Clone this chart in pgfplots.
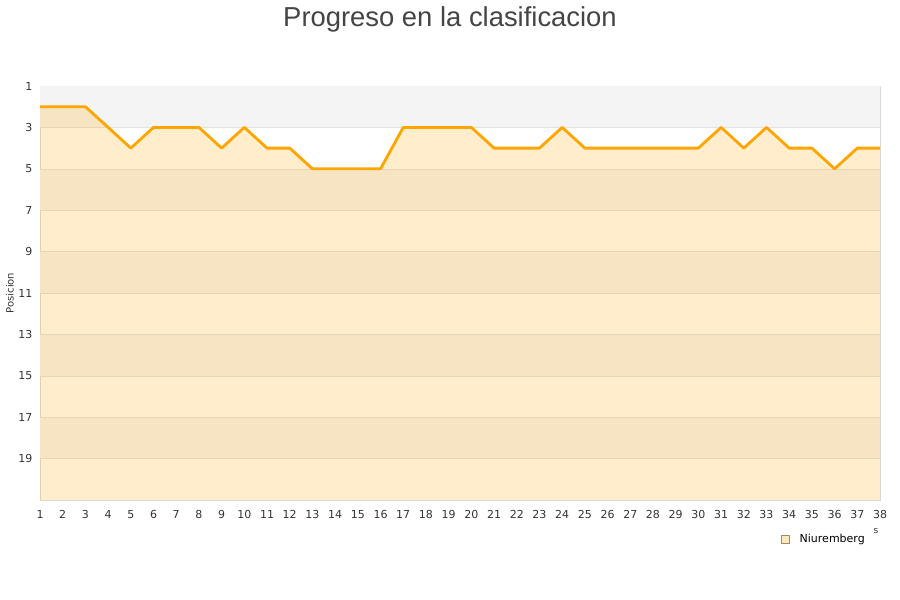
\documentclass[border=0pt]{standalone}
\usepackage{fontspec}
\setmainfont{DejaVu Sans}
\newfontfamily\titlefont{Liberation Sans}
\usepackage{pgfplots}
\pgfplotsset{compat=1.18}

\definecolor{lineor}{HTML}{FFA500}
\definecolor{bandgray}{HTML}{F4F4F4}
\definecolor{gridc}{HTML}{E2E2E2}
\definecolor{framec}{HTML}{DADADA}
\definecolor{txt}{HTML}{333333}
\definecolor{titlec}{HTML}{444444}
\definecolor{legf}{HTML}{FFE8C0}
\definecolor{legb}{HTML}{9A8A70}

\begin{document}
\begin{tikzpicture}[x=1pt,y=1pt]
\path[use as bounding box] (0,0) rectangle (900,600);
\node[font=\titlefont\fontsize{27.4}{30}\selectfont, text=titlec] at (450,581) {Progreso en la clasificacion};
\begin{axis}[
  at={(40pt,100pt)}, anchor=south west,
  scale only axis, width=840pt, height=414pt,
  xmin=1, xmax=38, ymin=1, ymax=21, y dir=reverse,
  xtick={1,...,38}, ytick={1,3,...,19},
  major tick length=0pt,
  axis line style={framec},
  tick label style={font=\fontsize{11}{13}\selectfont, text=txt},
  yticklabel style={xshift=-4pt},
  xticklabel style={yshift=-7pt},
  /pgf/number format/assume math mode=true,
  ylabel={Posicion},
  ylabel style={font=\fontsize{10}{12}\selectfont, text=txt, at={(axis description cs:0,0.5)}, anchor=center, yshift=30pt},
  legend style={at={(axis description cs:0.882,-0.094)}, anchor=west, draw=none, fill=none,
    font=\fontsize{11}{13}\selectfont, inner sep=0pt,
    /tikz/every odd column/.style={column sep=8pt}},
  legend cell align=left,
]
\fill[bandgray] (axis cs:1,1) rectangle (axis cs:38,3);
\fill[bandgray] (axis cs:1,5) rectangle (axis cs:38,7);
\fill[bandgray] (axis cs:1,9) rectangle (axis cs:38,11);
\fill[bandgray] (axis cs:1,13) rectangle (axis cs:38,15);
\fill[bandgray] (axis cs:1,17) rectangle (axis cs:38,19);
\pgfplotsinvokeforeach{3,5,...,19}{\draw[gridc] (axis cs:1,#1) -- (axis cs:38,#1);}

\addplot[draw=none, fill=lineor, fill opacity=0.2, forget plot] coordinates {
(1,2) (2,2) (3,2) (4,3) (5,4) (6,3) (7,3) (8,3) (9,4) (10,3)
(11,4) (12,4) (13,5) (14,5) (15,5) (16,5) (17,3) (18,3) (19,3) (20,3)
(21,4) (22,4) (23,4) (24,3) (25,4) (26,4) (27,4) (28,4) (29,4) (30,4)
(31,3) (32,4) (33,3) (34,4) (35,4) (36,5) (37,4) (38,4) (38,21) (1,21)
} -- cycle;

\addplot[lineor, line width=2.8pt, line join=round,
  legend image code/.code={\draw[draw=legb, fill=legf, line width=0.6pt] (0pt,-4pt) rectangle (8pt,4pt);}]
coordinates {
(1,2) (2,2) (3,2) (4,3) (5,4) (6,3) (7,3) (8,3) (9,4) (10,3)
(11,4) (12,4) (13,5) (14,5) (15,5) (16,5) (17,3) (18,3) (19,3) (20,3)
(21,4) (22,4) (23,4) (24,3) (25,4) (26,4) (27,4) (28,4) (29,4) (30,4)
(31,3) (32,4) (33,3) (34,4) (35,4) (36,5) (37,4) (38,4)
};
\addlegendentry{Niuremberg}
\end{axis}
\node[font=\fontsize{9}{10}\selectfont, text=txt] at (876,69) {s};
\end{tikzpicture}
\end{document}
